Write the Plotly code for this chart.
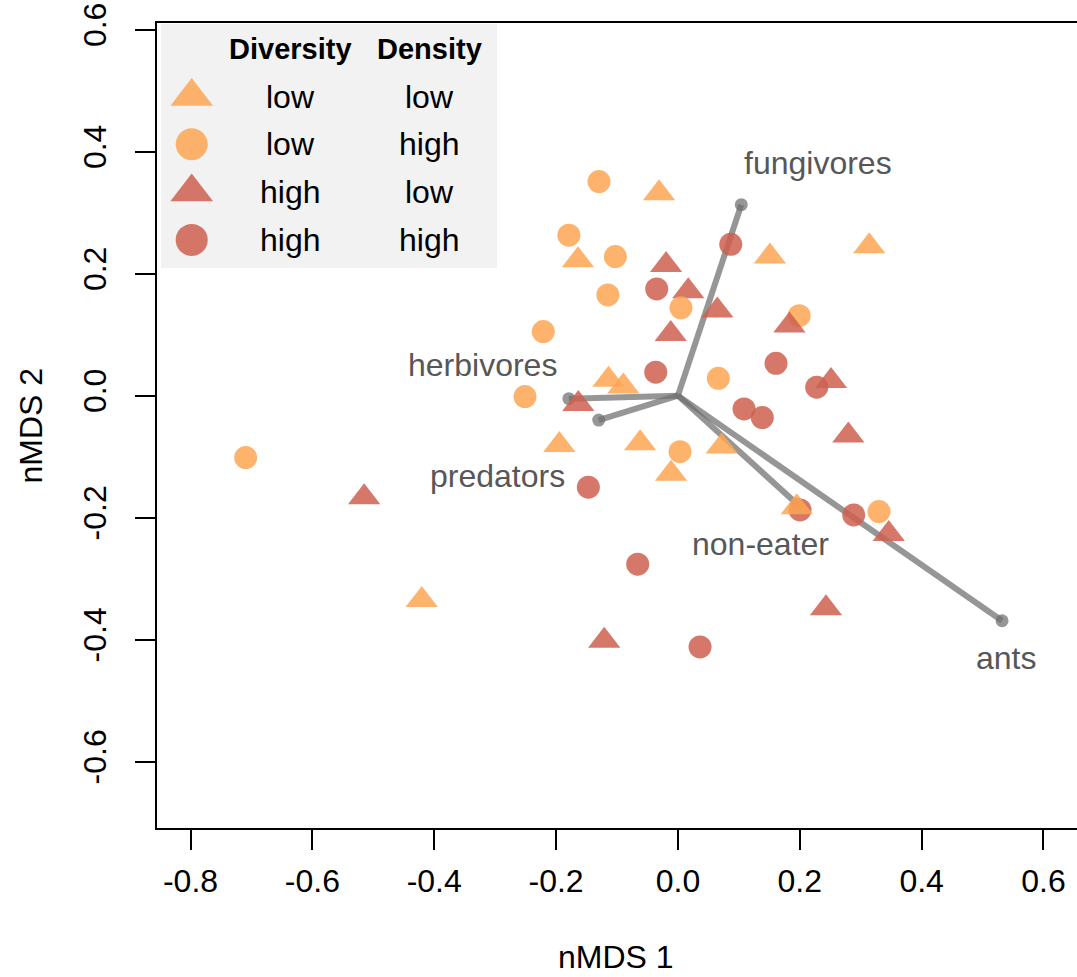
import plotly.graph_objects as go

# ---- nMDS site scores (one entry per plot) ----
nmds1 = [0.199, 0.330,
         -0.0195, 0.017, -0.0118, 0.0647, 0.183, 0.2513, -0.1635, 0.2797, 0.346, 0.243, -0.515, -0.121,
         0.0867, -0.0348, -0.0364, 0.161, 0.2278, 0.1085, 0.1385, -0.147, 0.2004, 0.2885, -0.066, 0.0363,
         -0.031, -0.164, 0.151, 0.314, -0.114, -0.0896, -0.1946, -0.062, -0.0113, 0.0719, 0.195, -0.4205,
         -0.1295, -0.179, -0.1027, -0.115, -0.221, 0.005, 0.0663, -0.251, 0.0034, -0.7095]
nmds2 = [0.131, -0.190,
         0.214, 0.171, 0.101, 0.1395, 0.115, 0.024, -0.0136, -0.0654, -0.2267, -0.3485, -0.1666, -0.402,
         0.248, 0.175, 0.0384, 0.053, 0.0138, -0.0218, -0.036, -0.150, -0.1874, -0.1956, -0.2764, -0.412,
         0.332, 0.222, 0.228, 0.245, 0.026, 0.015, -0.081, -0.078, -0.128, -0.0834, -0.183, -0.335,
         0.351, 0.263, 0.228, 0.165, 0.105, 0.144, 0.0285, -0.0016, -0.0918, -0.1016]
diversity = ["low", "low"] + ["high"] * 24 + ["low"] * 22
density = (["high", "high"] + ["low"] * 12 + ["high"] * 12 + ["low"] * 12 + ["high"] * 10)

# ---- feeding-group vectors fitted onto the ordination ----
groups = ["fungivores", "herbivores", "predators", "non-eater", "ants"]
vec1 = [0.104, -0.179, -0.130, 0.196, 0.532]
vec2 = [0.313, -0.005, -0.040, -0.178, -0.369]
label1 = [0.230, -0.320, -0.296, 0.136, 0.5385]
label2 = [0.3815, 0.0503, -0.1316, -0.2438, -0.430]

# ---- axes ----
xticks = [-0.8, -0.6, -0.4, -0.2, 0.0, 0.2, 0.4, 0.6]
yticks = [-0.6, -0.4, -0.2, 0.0, 0.2, 0.4, 0.6]
xlabels = [f"{v:.1f}" for v in xticks]
ylabels = [f"{v:.1f}" for v in yticks]

# ---- styling ----
FONT = "Liberation Sans, Arial, Helvetica, sans-serif"
col_div = {"low": "rgba(254,166,84,0.85)", "high": "rgba(206,96,80,0.85)"}
sym_dens = {"low": "triangle-up", "high": "circle"}
size_dens = {"low": 28, "high": 23}
VEC_COL = "rgba(110,110,110,0.72)"
LABEL_COL = "#575757"

W, H = 1077, 977
L, R, T, B = 157, 0, 23, 149
XR = [-0.855, 0.655]
YR = [-0.7088, 0.6109]

fig = go.Figure()

# vectors from the origin to each group score
vx, vy = [], []
for a, b in zip(vec1, vec2):
    vx += [0.0, a, None]
    vy += [0.0, b, None]
fig.add_trace(go.Scatter(x=vx, y=vy, mode="lines",
                         line=dict(color=VEC_COL, width=6),
                         hoverinfo="skip", showlegend=False))
fig.add_trace(go.Scatter(x=vec1, y=vec2, mode="markers",
                         marker=dict(color=VEC_COL, size=13, opacity=1, line=dict(width=0)),
                         hoverinfo="skip", showlegend=False))

# sites
fig.add_trace(go.Scatter(
    x=nmds1, y=nmds2, mode="markers",
    marker=dict(symbol=[sym_dens[d] for d in density],
                size=[size_dens[d] for d in density],
                color=[col_div[d] for d in diversity],
                opacity=1, line=dict(width=0)),
    showlegend=False))

# group labels
for g, lx, ly in zip(groups, label1, label2):
    fig.add_annotation(x=lx, y=ly, text=g, showarrow=False,
                       font=dict(family=FONT, size=32, color=LABEL_COL),
                       xanchor="center", yanchor="middle")

# ---- legend table (drawn in a pixel-based overlay frame) ----
combos = [("low", "low"), ("low", "high"), ("high", "low"), ("high", "high")]
row_y = [96.5, 144.3, 192.1, 239.9]
key_x, col1_x, col2_x, head_y = 191.7, 290, 429, 49
fig.add_shape(type="rect", xref="x2", yref="y2", x0=161, x1=497, y0=24, y1=268,
              fillcolor="#F2F2F2", line=dict(width=0), layer="below")
fig.add_trace(go.Scatter(
    x=[key_x] * 4, y=row_y, xaxis="x2", yaxis="y2", mode="markers",
    marker=dict(symbol=[sym_dens[d] for _, d in combos],
                size=[37 if d == "low" else 32 for _, d in combos],
                color=[col_div[v] for v, _ in combos], opacity=1, line=dict(width=0)),
    hoverinfo="skip", showlegend=False))
for txt, cx in (("Diversity", col1_x), ("Density", col2_x)):
    fig.add_annotation(x=cx, y=head_y, xref="x2", yref="y2", text=f"<b>{txt}</b>",
                       showarrow=False, xanchor="center", yanchor="middle",
                       font=dict(family=FONT, size=29, color="black"))
for (dv, dn), ry in zip(combos, row_y):
    fig.add_annotation(x=col1_x, y=ry, xref="x2", yref="y2", text=dv, showarrow=False,
                       xanchor="center", yanchor="middle",
                       font=dict(family=FONT, size=32, color="black"))
    fig.add_annotation(x=col2_x, y=ry, xref="x2", yref="y2", text=dn, showarrow=False,
                       xanchor="center", yanchor="middle",
                       font=dict(family=FONT, size=32, color="black"))

# axis titles
pw, ph = W - L - R, H - T - B
fig.add_annotation(x=(616 - L) / pw, y=-(957 - (H - B)) / ph, xref="paper", yref="paper",
                   text="nMDS 1", showarrow=False, xanchor="center", yanchor="middle",
                   font=dict(family=FONT, size=32, color="black"))
fig.add_annotation(x=(30 - L) / pw, y=0.5, xref="paper", yref="paper",
                   text="nMDS 2", textangle=-90, showarrow=False,
                   xanchor="center", yanchor="middle",
                   font=dict(family=FONT, size=32, color="black"))

axis_common = dict(showgrid=False, zeroline=False, ticks="outside", ticklen=20,
                   tickwidth=1.5, tickcolor="black", showline=True, linecolor="black",
                   linewidth=2, tickfont=dict(family=FONT, size=32, color="black"))

fig.update_layout(
    width=W, height=H, margin=dict(l=L, r=R, t=T, b=B, pad=0),
    paper_bgcolor="white", plot_bgcolor="white", showlegend=False,
    xaxis=dict(range=XR, tickvals=xticks, ticktext=xlabels, mirror=True,
               ticklabelstandoff=4, **axis_common),
    yaxis=dict(range=YR, tickvals=yticks, ticktext=ylabels, tickangle=-90,
               ticklabelstandoff=16, **axis_common),
    xaxis2=dict(range=[L, W - R], overlaying="x", visible=False, fixedrange=True),
    yaxis2=dict(range=[H - B, T], overlaying="y", visible=False, fixedrange=True),
)

fig.write_html("out.html")
